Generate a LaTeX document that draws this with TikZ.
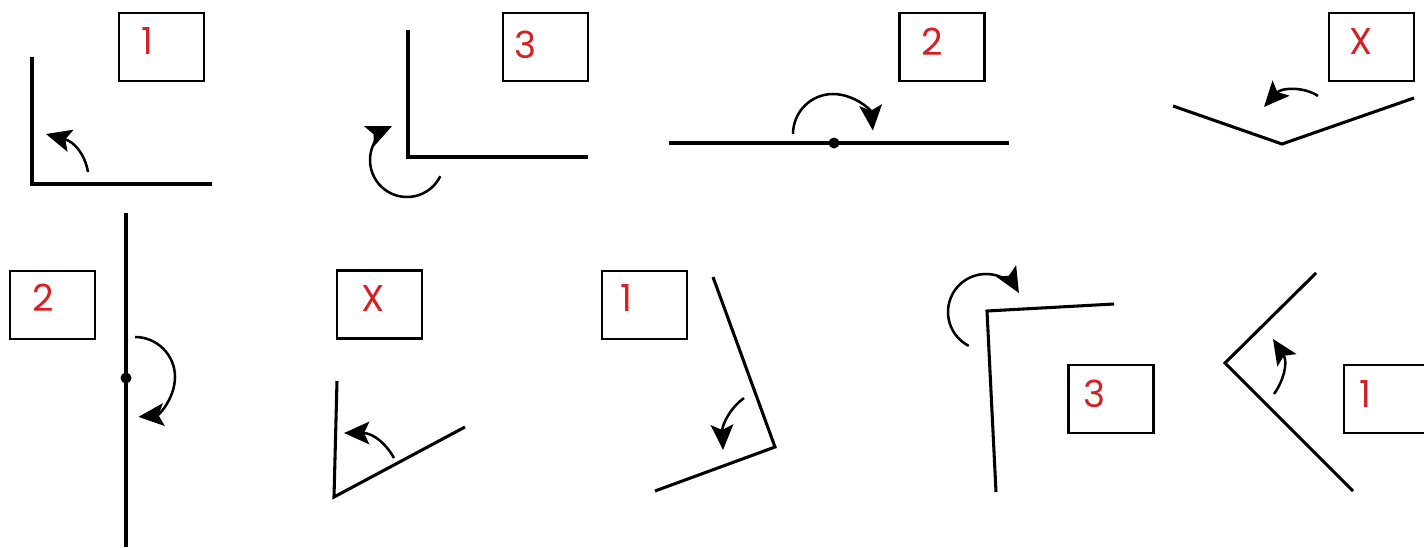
\documentclass[tikz,border=0pt]{standalone}
\usepackage{fontspec}
\setmainfont{Poppins}
\usetikzlibrary{arrows.meta}
\definecolor{numred}{RGB}{212,32,39}
\tikzset{
  card/.style={draw, line width=2.2pt, minimum width=63.75pt, minimum height=51pt, inner sep=0pt},
  num/.style={text=numred, font=\fontsize{28}{30}\selectfont, inner sep=0pt},
  edge/.style={line width=2.3pt},
  turn/.style={-{Stealth[length=19pt, width=17pt, inset=4pt]}, line width=1.9pt},
}
\begin{document}
\begin{tikzpicture}[x=0.75pt, y=-0.75pt, line join=miter]
            \useasboundingbox (0,0) rectangle (1424,547);
            \clip (0,0) rectangle (1424,547);
            % top row
            \node[card] (bA) at (161.5,47) {};\node[num] (nA) at (147.5,40.5) {1};
            \node[card] (bB) at (545.5,47) {};\node[num] (nB) at (525.5,45) {3};
            \node[card] (bC) at (942,47) {};\node[num] (nC) at (932.5,41.5) {2};
            \node[card] (bD) at (1371.5,47) {};\node[num] (nD) at (1361,41) {X};
            \draw[edge] (32,57) -- (32,184) -- (212,184);
            \draw[turn] (88,172) .. controls (85,155) and (75,142) .. (46,134);
            \coordinate (oB) at (407,160);
            \draw[edge] (408,30) -- (408,157) -- (588,157);
            \draw[turn] ([shift={(26:37)}]oB) arc[start angle=26, end angle=246, radius=37];
            \coordinate (oC) at (833,134);
            \draw[edge] (669,143) -- (1009,143);
            \fill (834,143) circle (5.5);
            \draw[turn] ([shift={(180:40)}]oC) arc[start angle=180, end angle=355, radius=40];
            \draw[edge] (1173,106) -- (1282,144) -- (1414,98);
            \draw[turn] (1318,96) .. controls (1305,87) and (1282,87) .. (1264,107);
            % bottom row
            \node[card] (bE) at (52.5,305) {};\node[num] (nE) at (43,298) {2};
            \node[card] (bF) at (379.5,304.5) {};\node[num] (nF) at (373,298.5) {X};
            \node[card] (bG) at (644.5,305) {};\node[num] (nG) at (626,298) {1};
            \node[card] (bH) at (1111,399) {};\node[num] (nH) at (1094,393.5) {3};
            \node[card] (bI) at (1386.5,399) {};\node[num] (nI) at (1365,393.5) {1};
            \coordinate (oE) at (135,377);
            \draw[edge] (126,213) -- (126,547);
            \fill (126,378) circle (5.5);
            \draw[turn] ([shift={(270:40)}]oE) arc[start angle=270, end angle=445, radius=40];
            \draw[edge] (337,381) -- (334,497) -- (465,427);
            \draw[turn] (394,458) .. controls (385,442) and (372,433) .. (344,433);
            \draw[edge] (713,277) -- (775,447) -- (655,491);
            \draw[turn] (744,398) .. controls (730,408) and (722,425) .. (723,450);
            \coordinate (oH) at (986,312);
            \draw[edge] (1114,304) -- (987,311) -- (996,492);
            \draw[turn] ([shift={(117:38)}]oH) arc[start angle=117, end angle=330, radius=38];
            \draw[edge] (1316,273) -- (1225,363) -- (1353,491);
            \draw[turn] (1274,394) .. controls (1284,380) and (1288,362) .. (1273,339);
        \end{tikzpicture}
\end{document}
